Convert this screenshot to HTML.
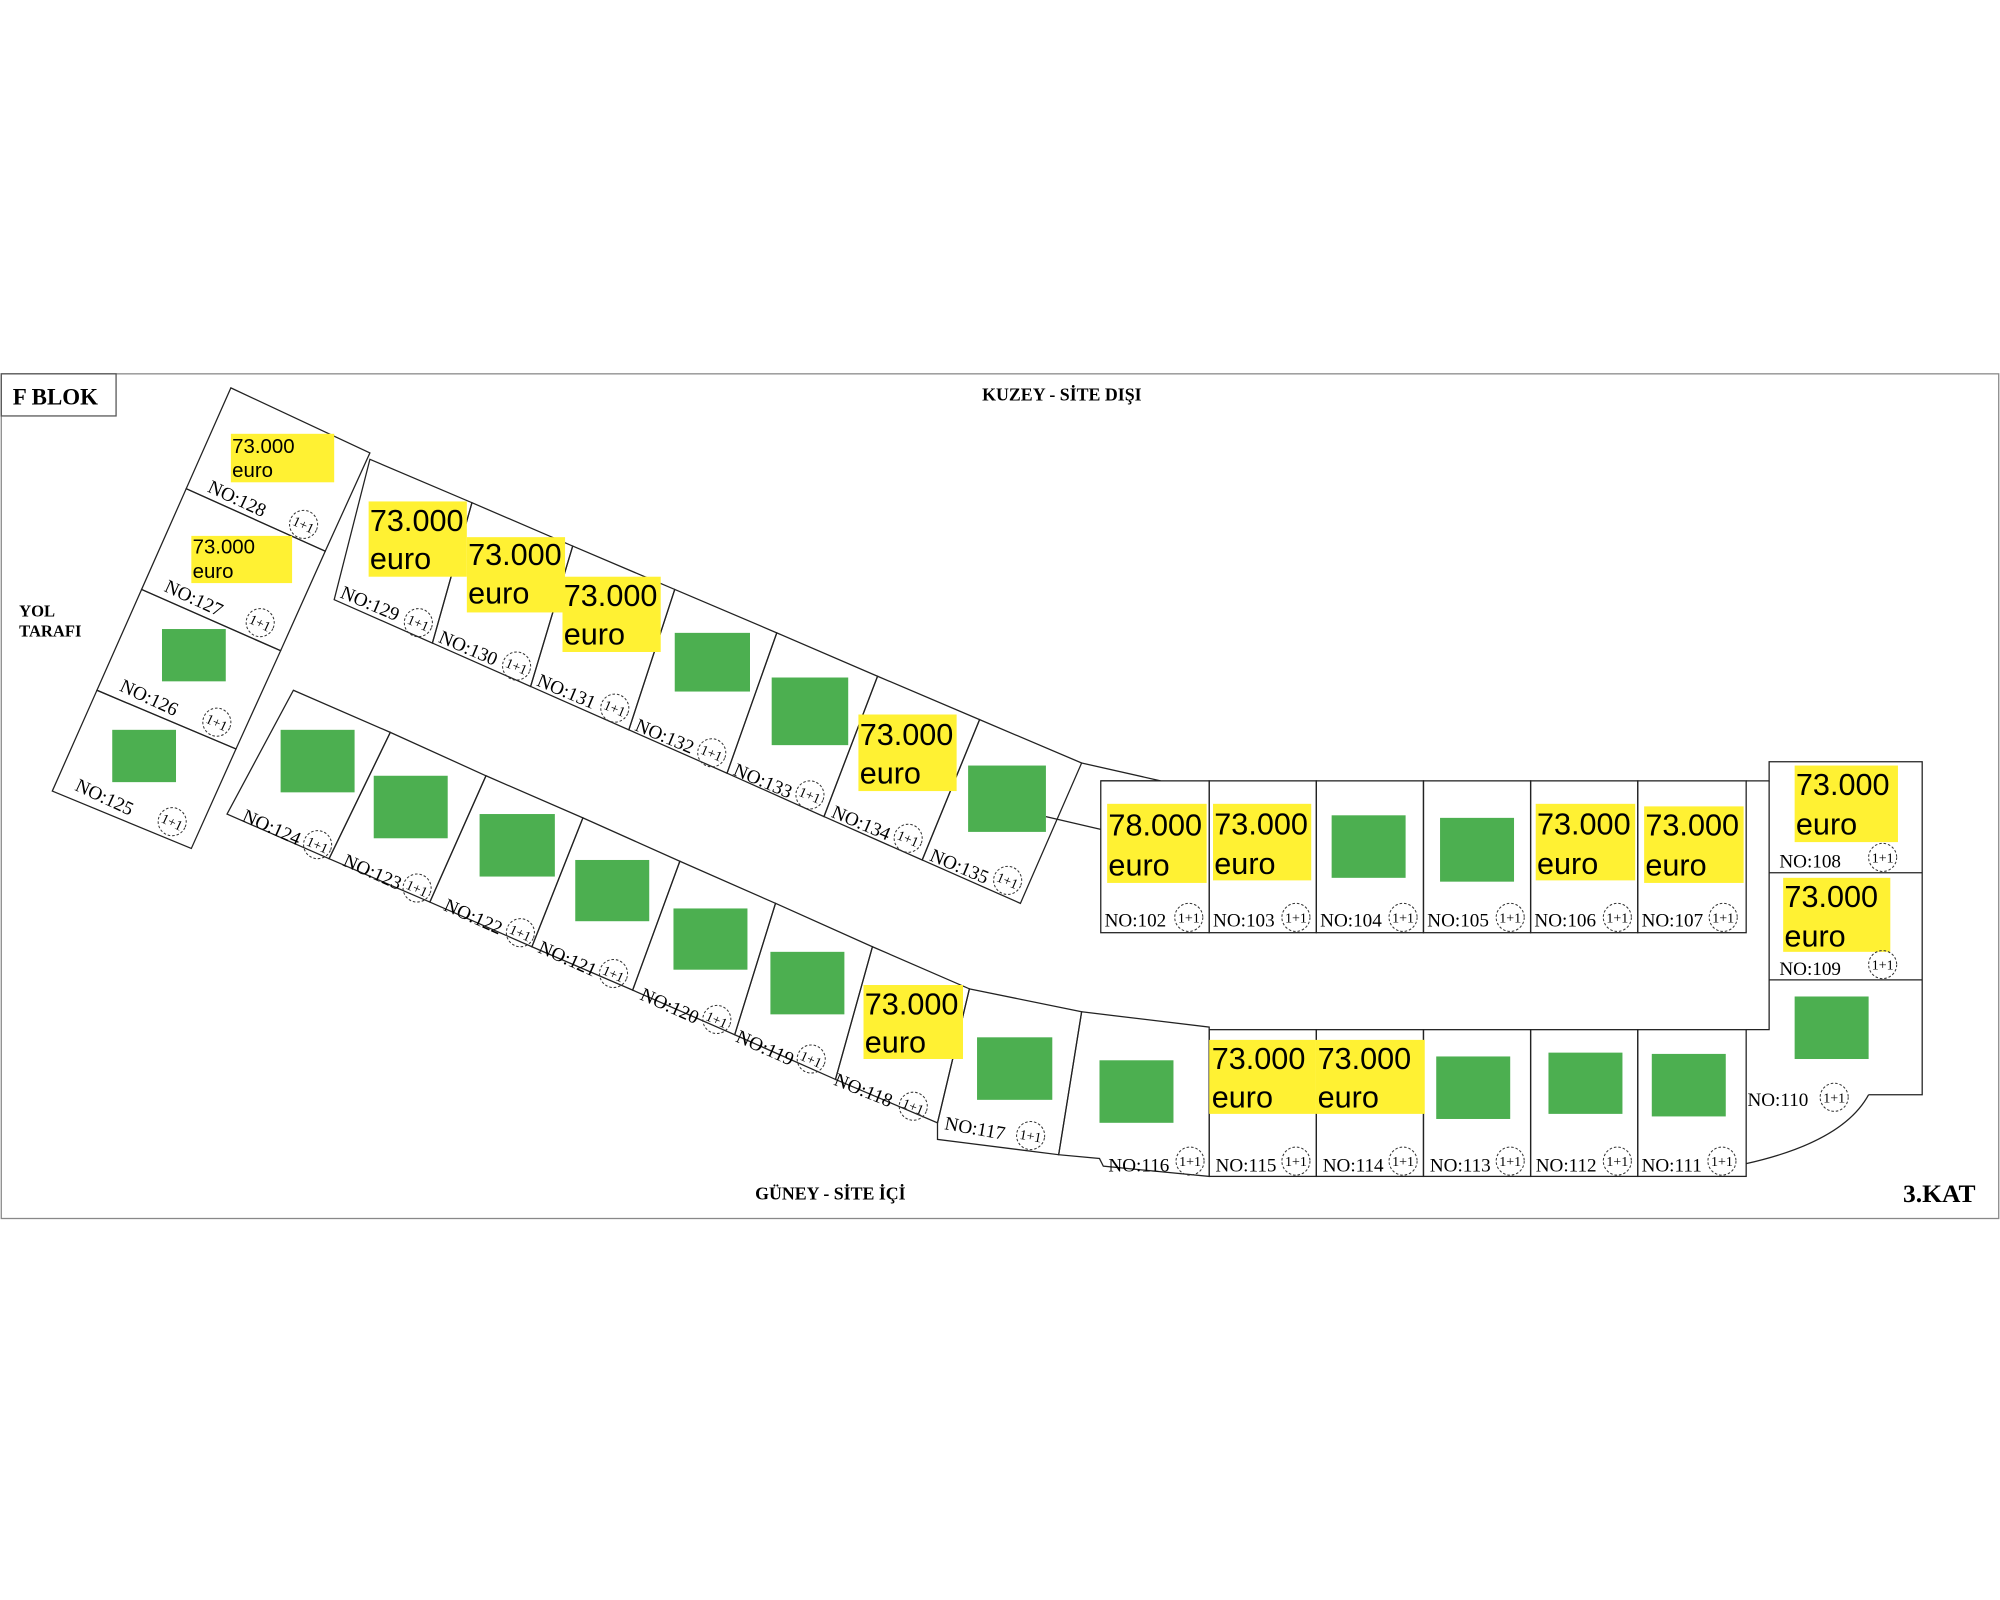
<!DOCTYPE html>
<html><head><meta charset="utf-8"><style>html,body{margin:0;padding:0;background:#fff}svg{display:block}</style></head>
<body>
<svg width="2000" height="1600" viewBox="0 0 1568 1254" preserveAspectRatio="none" xmlns="http://www.w3.org/2000/svg" font-family="Liberation Serif, serif">
<rect x="1" y="293" width="1566" height="662" fill="none" stroke="#888" stroke-width="1"/>
<rect x="1" y="293" width="90" height="33" fill="none" stroke="#555" stroke-width="1"/>
<text x="10" y="317" font-size="18" font-weight="bold">F BLOK</text>
<text x="770" y="314" font-size="14" font-weight="bold">KUZEY - SİTE DIŞI</text>
<text x="592" y="940" font-size="14" font-weight="bold">GÜNEY - SİTE İÇİ</text>
<text x="15" y="483" font-size="13" font-weight="bold">YOL</text>
<text x="15" y="499" font-size="13" font-weight="bold">TARAFI</text>
<text x="1492" y="942" font-size="20" font-weight="bold">3.KAT</text>
<g fill="none" stroke="#222" stroke-width="1">
<!-- left strip -->
<polygon points="181,304 290,355 255,432 146,383"/>
<polygon points="146,383 255,432 220,510 111,462"/>
<polygon points="111,462 220,510 185,587 76,541"/>
<polygon points="76,541 185,587 150,665 41,620"/>
<!-- upper strip -->
<polygon points="290,360 370,394 339,504 262,470"/>
<polygon points="370,394 449,428 416,538 339,504"/>
<polygon points="449,428 529,462 493,572 416,538"/>
<polygon points="529,462 609,496 570,606 493,572"/>
<polygon points="609,496 688,530 646,640 570,606"/>
<polygon points="688,530 768,564 723,674 646,640"/>
<polygon points="768,564 848,598 800,708 723,674"/>
<!-- lower strip -->
<polygon points="230,541 306,574 258,673 178,638"/>
<polygon points="306,574 381,608 337,707 258,673"/>
<polygon points="381,608 457,641 417,742 337,707"/>
<polygon points="457,641 533,675 496,776 417,742"/>
<polygon points="533,675 608,708 576,811 496,776"/>
<polygon points="608,708 684,742 655,846 576,811"/>
<polygon points="684,742 760,775 735,880 655,846"/>
<polygon points="760,775 848,793 830,905 735,893 735,880"/>
<polygon points="848,793 948,805 948,922 865,914 862,908 830,905"/>
<!-- corridor link -->
<polyline points="848,598 910,612 863,612"/>
<polyline points="820,640 863,650"/>
<!-- top row -->
<rect x="863" y="612" width="85" height="119"/>
<rect x="948" y="612" width="84" height="119"/>
<rect x="1032" y="612" width="84" height="119"/>
<rect x="1116" y="612" width="84" height="119"/>
<rect x="1200" y="612" width="84" height="119"/>
<rect x="1284" y="612" width="85" height="119"/>
<!-- bottom row -->
<rect x="948" y="807" width="84" height="115"/>
<rect x="1032" y="807" width="84" height="115"/>
<rect x="1116" y="807" width="84" height="115"/>
<rect x="1200" y="807" width="84" height="115"/>
<rect x="1284" y="807" width="85" height="115"/>
<!-- right column -->
<polyline points="1369,612 1387,612 1387,597 1507,597 1507,858 1465,858"/>
<line x1="1387" y1="684" x2="1507" y2="684"/>
<line x1="1387" y1="768" x2="1507" y2="768"/>
<polyline points="1387,612 1387,807 1369,807"/>
<path d="M1369,912 Q1445,895 1465,858"/>
</g>
<!-- yellow boxes -->
<g fill="#fff133">
<rect x="181" y="340" width="81" height="38"/>
<rect x="150" y="420" width="79" height="37"/>
<rect x="289" y="393" width="77" height="59"/>
<rect x="366" y="421" width="77" height="59"/>
<rect x="441" y="452" width="77" height="59"/>
<rect x="673" y="560" width="77" height="60"/>
<rect x="677" y="772" width="78" height="58"/>
<rect x="868" y="630" width="78" height="62"/>
<rect x="951" y="630" width="77" height="60"/>
<rect x="1204" y="630" width="78" height="60"/>
<rect x="1289" y="632" width="78" height="60"/>
<rect x="1407" y="600" width="81" height="60"/>
<rect x="1398" y="688" width="84" height="58"/>
<rect x="948" y="815" width="83" height="58"/>
<rect x="1031" y="815" width="86" height="58"/>
</g>
<g font-family="Liberation Sans, sans-serif" fill="#000">
<text x="182" y="355" font-size="16">73.000</text><text x="182" y="374" font-size="16">euro</text>
<text x="151" y="434" font-size="16">73.000</text><text x="151" y="453" font-size="16">euro</text>
<g font-size="24">
<text x="290" y="416">73.000</text><text x="290" y="446">euro</text>
<text x="367" y="443">73.000</text><text x="367" y="473">euro</text>
<text x="442" y="475">73.000</text><text x="442" y="505">euro</text>
<text x="674" y="584">73.000</text><text x="674" y="614">euro</text>
<text x="678" y="795">73.000</text><text x="678" y="825">euro</text>
<text x="869" y="655">78.000</text><text x="869" y="686">euro</text>
<text x="952" y="654">73.000</text><text x="952" y="685">euro</text>
<text x="1205" y="654">73.000</text><text x="1205" y="685">euro</text>
<text x="1290" y="655">73.000</text><text x="1290" y="686">euro</text>
<text x="1408" y="623">73.000</text><text x="1408" y="654">euro</text>
<text x="1399" y="711">73.000</text><text x="1399" y="742">euro</text>
<text x="950" y="838">73.000</text><text x="950" y="868">euro</text>
<text x="1033" y="838">73.000</text><text x="1033" y="868">euro</text>
</g></g>
<!-- green boxes -->
<g fill="#4caf50">
<rect x="127" y="493" width="50" height="41"/>
<rect x="88" y="572" width="50" height="41"/>
<rect x="529" y="496" width="59" height="46"/>
<rect x="605" y="531" width="60" height="53"/>
<rect x="759" y="600" width="61" height="52"/>
<rect x="220" y="572" width="58" height="49"/>
<rect x="293" y="608" width="58" height="49"/>
<rect x="376" y="638" width="59" height="49"/>
<rect x="451" y="674" width="58" height="48"/>
<rect x="528" y="712" width="58" height="48"/>
<rect x="604" y="746" width="58" height="49"/>
<rect x="766" y="813" width="59" height="49"/>
<rect x="862" y="831" width="58" height="49"/>
<rect x="1044" y="639" width="58" height="49"/>
<rect x="1129" y="641" width="58" height="50"/>
<rect x="1126" y="828" width="58" height="49"/>
<rect x="1214" y="825" width="58" height="48"/>
<rect x="1295" y="826" width="58" height="49"/>
<rect x="1407" y="781" width="58" height="49"/>
</g>
<!-- labels -->
<defs>
<g id="c"><circle r="11" fill="none" stroke="#333" stroke-width="0.8" stroke-dasharray="2,1.5"/><text x="0" y="4" font-size="11" text-anchor="middle">1+1</text></g>
</defs>
<g font-size="15">
<g transform="translate(162,385) rotate(25)"><text>NO:128</text></g><use href="#c" transform="translate(238,411) rotate(25)"/>
<g transform="translate(128,463) rotate(25)"><text>NO:127</text></g><use href="#c" transform="translate(204,488) rotate(25)"/>
<g transform="translate(93,541) rotate(25)"><text>NO:126</text></g><use href="#c" transform="translate(170,566) rotate(25)"/>
<g transform="translate(58,619) rotate(25)"><text>NO:125</text></g><use href="#c" transform="translate(135,644) rotate(25)"/>
<g transform="translate(266,468) rotate(23)"><text>NO:129</text></g><use href="#c" transform="translate(328,488) rotate(23)"/>
<g transform="translate(343,503) rotate(23)"><text>NO:130</text></g><use href="#c" transform="translate(405,522) rotate(23)"/>
<g transform="translate(420,537) rotate(23)"><text>NO:131</text></g><use href="#c" transform="translate(482,555) rotate(23)"/>
<g transform="translate(497,572) rotate(23)"><text>NO:132</text></g><use href="#c" transform="translate(558,590) rotate(23)"/>
<g transform="translate(574,607) rotate(23)"><text>NO:133</text></g><use href="#c" transform="translate(635,623) rotate(23)"/>
<g transform="translate(651,640) rotate(23)"><text>NO:134</text></g><use href="#c" transform="translate(712,657) rotate(23)"/>
<g transform="translate(728,674) rotate(23)"><text>NO:135</text></g><use href="#c" transform="translate(790,690) rotate(23)"/>
<g transform="translate(189,643) rotate(24)"><text>NO:124</text></g><use href="#c" transform="translate(249,662) rotate(24)"/>
<g transform="translate(268,678) rotate(24)"><text>NO:123</text></g><use href="#c" transform="translate(327,696) rotate(24)"/>
<g transform="translate(347,713) rotate(24)"><text>NO:122</text></g><use href="#c" transform="translate(408,731) rotate(24)"/>
<g transform="translate(421,746) rotate(24)"><text>NO:121</text></g><use href="#c" transform="translate(481,763) rotate(24)"/>
<g transform="translate(501,783) rotate(24)"><text>NO:120</text></g><use href="#c" transform="translate(562,799) rotate(24)"/>
<g transform="translate(576,816) rotate(24)"><text>NO:119</text></g><use href="#c" transform="translate(636,830) rotate(24)"/>
<g transform="translate(653,850) rotate(22)"><text>NO:118</text></g><use href="#c" transform="translate(716,867) rotate(22)"/>
<g transform="translate(740,885) rotate(10)"><text>NO:117</text></g><use href="#c" transform="translate(808,890) rotate(10)"/>
<text x="866" y="726">NO:102</text><use href="#c" x="932" y="719"/>
<text x="951" y="726">NO:103</text><use href="#c" x="1016" y="719"/>
<text x="1035" y="726">NO:104</text><use href="#c" x="1100" y="719"/>
<text x="1119" y="726">NO:105</text><use href="#c" x="1184" y="719"/>
<text x="1203" y="726">NO:106</text><use href="#c" x="1268" y="719"/>
<text x="1287" y="726">NO:107</text><use href="#c" x="1351" y="719"/>
<text x="869" y="918">NO:116</text><use href="#c" x="933" y="910"/>
<text x="953" y="918">NO:115</text><use href="#c" x="1016" y="910"/>
<text x="1037" y="918">NO:114</text><use href="#c" x="1100" y="910"/>
<text x="1121" y="918">NO:113</text><use href="#c" x="1184" y="910"/>
<text x="1204" y="918">NO:112</text><use href="#c" x="1268" y="910"/>
<text x="1287" y="918">NO:111</text><use href="#c" x="1350" y="910"/>
<text x="1395" y="680">NO:108</text><use href="#c" x="1476" y="672"/>
<text x="1395" y="764">NO:109</text><use href="#c" x="1476" y="756"/>
<text x="1370" y="867">NO:110</text><use href="#c" x="1438" y="860"/>
</g>
</svg>
</body></html>
